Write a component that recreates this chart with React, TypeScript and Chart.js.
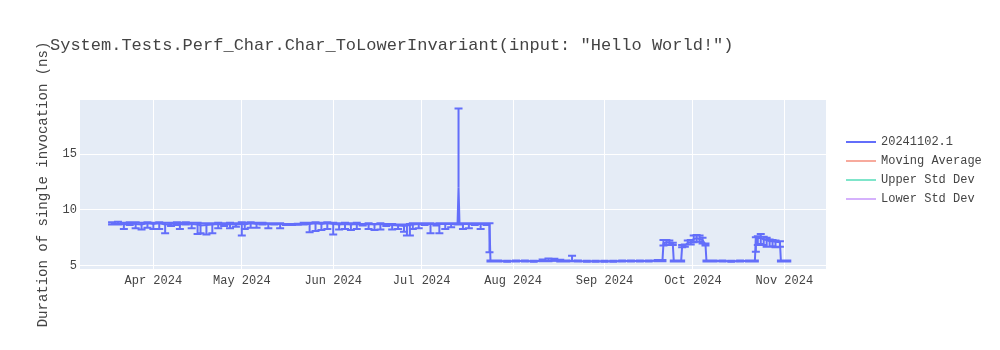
import React, { useEffect, useRef } from "react";
import { Chart, registerables } from "chart.js";

Chart.register(...registerables);

const titleText = 'System.Tests.Perf_Char.Char_ToLowerInvariant(input: "Hello World!")';
const yAxisTitle = "Duration of single invocation (ns)";

const legendNames = ["20241102.1", "Moving Average", "Upper Std Dev", "Lower Std Dev"];
const legendColors = ["#636efa", "#EF553B", "#00cc96", "#ab63fa"];
const legendVisible = [true, false, false, false];

const xTickDates = ["2024-04-01", "2024-05-01", "2024-06-01", "2024-07-01", "2024-08-01", "2024-09-01", "2024-10-01", "2024-11-01"];
const xTickLabels = ["Apr 2024", "May 2024", "Jun 2024", "Jul 2024", "Aug 2024", "Sep 2024", "Oct 2024", "Nov 2024"];
const yTickValues = [5, 10, 15];

const dates = [
  "2024-03-18", "2024-03-20", "2024-03-22", "2024-03-24", "2024-03-26", "2024-03-28", "2024-03-30",
  "2024-04-01", "2024-04-03", "2024-04-05", "2024-04-07", "2024-04-09", "2024-04-10", "2024-04-12",
  "2024-04-14", "2024-04-16", "2024-04-17", "2024-04-19", "2024-04-21", "2024-04-23", "2024-04-25",
  "2024-04-27", "2024-04-29", "2024-05-01", "2024-05-02", "2024-05-04", "2024-05-06", "2024-05-08",
  "2024-05-10", "2024-05-12", "2024-05-14", "2024-05-16", "2024-05-18", "2024-05-20", "2024-05-22",
  "2024-05-24", "2024-05-26", "2024-05-28", "2024-05-30", "2024-06-01", "2024-06-03", "2024-06-05",
  "2024-06-07", "2024-06-09", "2024-06-11", "2024-06-13", "2024-06-15", "2024-06-17", "2024-06-19",
  "2024-06-21", "2024-06-23", "2024-06-25", "2024-06-26", "2024-06-27", "2024-06-28", "2024-06-30",
  "2024-07-02", "2024-07-04", "2024-07-06", "2024-07-07", "2024-07-09", "2024-07-11", "2024-07-13T04",
  "2024-07-13T12", "2024-07-13T20", "2024-07-15", "2024-07-17", "2024-07-19", "2024-07-21", "2024-07-23",
  "2024-07-24T00", "2024-07-24T08",
  "2024-07-27", "2024-07-30", "2024-08-02", "2024-08-05", "2024-08-08", "2024-08-11", "2024-08-13",
  "2024-08-15", "2024-08-17", "2024-08-19", "2024-08-21", "2024-08-23", "2024-08-26", "2024-08-29",
  "2024-09-01", "2024-09-04", "2024-09-07", "2024-09-10", "2024-09-13", "2024-09-16", "2024-09-19",
  "2024-09-20T16", "2024-09-21T00", "2024-09-22", "2024-09-23", "2024-09-24T04", "2024-09-24T12",
  "2024-09-26", "2024-09-27T00", "2024-09-27T08", "2024-09-28T06", "2024-09-29T06", "2024-09-30T06",
  "2024-10-01T06", "2024-10-02T06", "2024-10-03T06", "2024-10-04T06", "2024-10-05T06", "2024-10-05T14",
  "2024-10-08", "2024-10-11", "2024-10-14", "2024-10-17", "2024-10-20", "2024-10-22T00", "2024-10-22T08",
  "2024-10-23", "2024-10-24", "2024-10-25", "2024-10-26", "2024-10-27", "2024-10-28", "2024-10-29",
  "2024-10-30T12", "2024-10-30T20", "2024-11-01", "2024-11-02",
];

const values = [
  8.75, 8.8, 8.7, 8.8, 8.75, 8.7, 8.8,
  8.75, 8.8, 8.7, 8.75, 8.8, 8.7, 8.8,
  8.75, 8.7, 8.6, 8.65, 8.7, 8.75, 8.7,
  8.75, 8.7, 8.75, 8.7, 8.8, 8.75, 8.8,
  8.75, 8.75, 8.75, 8.7, 8.7, 8.72, 8.75,
  8.75, 8.8, 8.75, 8.8, 8.75, 8.7, 8.75,
  8.7, 8.75, 8.7, 8.75, 8.7, 8.75, 8.7,
  8.65, 8.6, 8.55, 8.6, 8.65, 8.7, 8.75,
  8.75, 8.75, 8.7, 8.75, 8.75, 8.75, 8.75,
  12.0, 8.75, 8.75, 8.75, 8.75, 8.75, 8.75,
  8.75, 5.42,
  5.42, 5.4, 5.42, 5.42, 5.4, 5.45, 5.45,
  5.48, 5.42, 5.42, 5.45, 5.42, 5.4, 5.4,
  5.4, 5.4, 5.42, 5.42, 5.42, 5.42, 5.45,
  5.45, 7.0, 7.1, 7.05, 6.95, 5.42,
  5.42, 5.42, 6.75, 6.8, 7.05, 7.1,
  7.4, 7.45, 7.4, 7.3, 6.9, 5.42,
  5.42, 5.42, 5.4, 5.42, 5.42, 5.42, 7.4,
  7.45, 7.5, 7.35, 7.3, 7.2, 7.2, 7.15,
  7.1, 5.42, 5.42, 5.42,
];

const errPlus = [
  0.15, 0.15, 0.15, 0.1, 0.15, 0.15, 0.1,
  0.1, 0.1, 0.15, 0.1, 0.1, 0.15, 0.1,
  0.1, 0.15, 0.2, 0.15, 0.1, 0.1, 0.1,
  0.1, 0.1, 0.15, 0.15, 0.1, 0.1, 0.05,
  0.05, 0.05, 0.05, 0.05, 0.05, 0.05, 0.1,
  0.1, 0.1, 0.1, 0.1, 0.1, 0.1, 0.1,
  0.1, 0.1, 0.05, 0.05, 0.05, 0.05, 0.05,
  0.1, 0.1, 0.15, 0.1, 0.1, 0.1, 0.05,
  0.05, 0.05, 0.05, 0.05, 0.05, 0.05, 0.05,
  7.1, 0.05, 0.05, 0.05, 0.05, 0.05, 0.05,
  0.05, 0.05,
  0.05, 0.05, 0.05, 0.05, 0.05, 0.1, 0.2,
  0.15, 0.1, 0.05, 0.45, 0.05, 0.05, 0.05,
  0.05, 0.05, 0.05, 0.05, 0.05, 0.05, 0.05,
  0.05, 0.3, 0.2, 0.2, 0.1, 0.05,
  0.05, 0.05, 0.1, 0.1, 0.2, 0.2,
  0.3, 0.3, 0.3, 0.2, 0.1, 0.05,
  0.05, 0.05, 0.05, 0.05, 0.05, 0.05, 0.15,
  0.2, 0.35, 0.25, 0.2, 0.15, 0.1, 0.1,
  0.1, 0.05, 0.05, 0.05,
];

const errMinus = [
  0.05, 0.1, 0.4, 0.15, 0.4, 0.45, 0.4,
  0.45, 0.5, 0.8, 0.2, 0.15, 0.4, 0.1,
  0.4, 0.85, 0.7, 0.85, 0.8, 0.4, 0.15,
  0.4, 0.2, 1.05, 0.4, 0.4, 0.35, 0.1,
  0.4, 0.05, 0.4, 0.05, 0.05, 0.05, 0.05,
  0.75, 0.7, 0.55, 0.5, 0.95, 0.45, 0.45,
  0.5, 0.45, 0.1, 0.45, 0.5, 0.5, 0.15,
  0.4, 0.3, 0.5, 0.9, 0.95, 0.4, 0.4,
  0.1, 0.85, 0.1, 0.85, 0.45, 0.3, 0.05,
  0.0, 0.05, 0.45, 0.4, 0.1, 0.45, 0.1,
  2.55, 0.05,
  0.05, 0.05, 0.05, 0.05, 0.05, 0.05, 0.05,
  0.05, 0.05, 0.05, 0.05, 0.05, 0.05, 0.05,
  0.05, 0.05, 0.05, 0.05, 0.05, 0.05, 0.05,
  0.05, 0.2, 0.25, 0.2, 0.1, 0.05,
  0.05, 0.05, 0.1, 0.1, 0.15, 0.2,
  0.3, 0.3, 0.25, 0.3, 0.1, 0.05,
  0.05, 0.05, 0.05, 0.05, 0.05, 0.05, 1.15,
  0.6, 0.55, 0.5, 0.6, 0.5, 0.45, 0.5,
  0.4, 0.05, 0.05, 0.05,
];

const xMinDate = "2024-03-07T03";
const xMaxDate = "2024-11-15T03";
const yMin = 4.7;
const yMax = 19.87;

const MONO = "'Courier New', 'Liberation Mono', monospace";
const TEXT = "#444";
const LINE = "#636efa";

function toMs(s: string): number {
  const [d, t] = s.split("T");
  const [y, m, dd] = d.split("-").map(Number);
  const h = t ? Number(t.slice(0, 2)) : 0;
  return Date.UTC(y, m - 1, dd, h);
}

function fade(hex: string, a: number): string {
  const r = parseInt(hex.slice(1, 3), 16);
  const g = parseInt(hex.slice(3, 5), 16);
  const b = parseInt(hex.slice(5, 7), 16);
  return `rgba(${r},${g},${b},${a})`;
}

const plotBgPlugin = {
  id: "plotBg",
  beforeDraw(chart: any) {
    const { ctx, chartArea } = chart;
    ctx.save();
    ctx.fillStyle = "#E5ECF6";
    ctx.fillRect(chartArea.left, chartArea.top, chartArea.right - chartArea.left, chartArea.bottom - chartArea.top);
    ctx.restore();
  },
};

const errorBarPlugin = {
  id: "errorBars",
  afterDatasetsDraw(chart: any) {
    const { ctx, chartArea, scales } = chart;
    const xs = scales.x;
    const ys = scales.y;
    ctx.save();
    ctx.beginPath();
    ctx.rect(chartArea.left, chartArea.top, chartArea.right - chartArea.left, chartArea.bottom - chartArea.top);
    ctx.clip();
    ctx.strokeStyle = LINE;
    ctx.lineWidth = 2;
    ctx.beginPath();
    const w = 4;
    for (let i = 0; i < dates.length; i++) {
      const px = xs.getPixelForValue(toMs(dates[i]));
      const yt = ys.getPixelForValue(values[i] + errPlus[i]);
      const yb = ys.getPixelForValue(values[i] - errMinus[i]);
      ctx.moveTo(px, yt);
      ctx.lineTo(px, yb);
      if (errPlus[i] > 0) {
        ctx.moveTo(px - w, yt);
        ctx.lineTo(px + w, yt);
      }
      if (errMinus[i] > 0) {
        ctx.moveTo(px - w, yb);
        ctx.lineTo(px + w, yb);
      }
    }
    ctx.stroke();
    ctx.restore();
  },
};

const textPlugin = {
  id: "texts",
  afterDraw(chart: any) {
    const { ctx, chartArea } = chart;
    ctx.save();
    ctx.font = `17px ${MONO}`;
    ctx.fillStyle = TEXT;
    ctx.textAlign = "left";
    ctx.textBaseline = "middle";
    ctx.fillText(titleText, 50, 45);

    const lx = chartArea.right + 20;
    const ly = 142;
    ctx.font = `12px ${MONO}`;
    for (let i = 0; i < legendNames.length; i++) {
      const y = ly + i * 19;
      const alpha = legendVisible[i] ? 1 : 0.5;
      ctx.strokeStyle = fade(legendColors[i], alpha);
      ctx.lineWidth = 2;
      ctx.beginPath();
      ctx.moveTo(lx, y);
      ctx.lineTo(lx + 30, y);
      ctx.stroke();
      ctx.fillStyle = fade(TEXT, alpha);
      ctx.fillText(legendNames[i], lx + 35, y);
    }
    ctx.restore();
  },
};

export default function App() {
  const canvasRef = useRef<HTMLCanvasElement | null>(null);

  useEffect(() => {
    document.body.style.margin = "0";
    const canvas = canvasRef.current;
    if (!canvas) return;
    const xTickMs = xTickDates.map(toMs);
    const chart = new Chart(canvas, {
      type: "line",
      data: {
        datasets: [
          {
            label: legendNames[0],
            data: dates.map((d, i) => ({ x: toMs(d), y: values[i] })),
            borderColor: LINE,
            backgroundColor: LINE,
            borderWidth: 2,
            pointRadius: 0,
            tension: 0,
            fill: false,
          },
        ],
      },
      options: {
        responsive: false,
        animation: false,
        events: [],
        layout: { padding: { left: 0, right: 174, top: 100, bottom: 0 } },
        plugins: {
          legend: { display: false },
          title: { display: false },
          tooltip: { enabled: false },
        },
        scales: {
          x: {
            type: "linear",
            min: toMs(xMinDate),
            max: toMs(xMaxDate),
            afterBuildTicks: (scale: any) => {
              scale.ticks = xTickMs.map((v) => ({ value: v }));
            },
            afterFit: (scale: any) => {
              scale.height = 81;
            },
            ticks: {
              autoSkip: false,
              maxRotation: 0,
              minRotation: 0,
              padding: 5,
              color: TEXT,
              font: { family: MONO, size: 12 },
              callback: (value: any) => {
                const idx = xTickMs.indexOf(Number(value));
                return idx >= 0 ? xTickLabels[idx] : "";
              },
            },
            grid: { color: "#ffffff", lineWidth: 1, drawTicks: false },
            border: { display: false },
          },
          y: {
            type: "linear",
            min: yMin,
            max: yMax,
            afterBuildTicks: (scale: any) => {
              scale.ticks = yTickValues.map((v) => ({ value: v }));
            },
            afterFit: (scale: any) => {
              scale.width = 80;
            },
            ticks: {
              padding: 3,
              color: TEXT,
              font: { family: MONO, size: 12 },
            },
            grid: { color: "#ffffff", lineWidth: 1, drawTicks: false },
            border: { display: false },
            title: {
              display: true,
              text: yAxisTitle,
              color: TEXT,
              font: { family: MONO, size: 14 },
              padding: { top: 34.6, bottom: 0 },
            },
          },
        },
      },
      plugins: [plotBgPlugin, errorBarPlugin, textPlugin],
    });
    return () => chart.destroy();
  }, []);

  return (
    <div style={{ width: 1000, height: 350 }}>
      <canvas ref={canvasRef} width={1000} height={350} style={{ display: "block" }} />
    </div>
  );
}
